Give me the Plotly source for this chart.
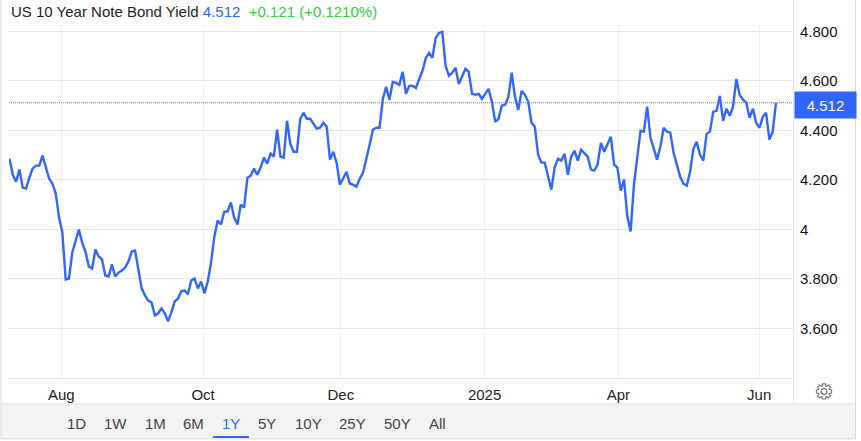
import math
import plotly.graph_objects as go

title = "US 10 Year Note Bond Yield"
last_text = "4.512"
change_text = "+0.121 (+0.1210%)"

yields = [
 4.286,4.221,4.193,4.242,4.169,4.165,4.209,4.246,4.258,4.258,4.298,4.250,4.205,4.185,4.145,4.048,3.988,3.798,3.802,3.907,
 3.959,4.000,3.947,3.911,3.850,3.842,3.919,3.891,3.879,3.814,3.810,3.859,3.810,3.826,3.834,3.846,3.871,3.911,3.915,3.838,
 3.762,3.734,3.713,3.705,3.653,3.661,3.681,3.661,3.629,3.665,3.709,3.721,3.750,3.754,3.738,3.794,3.802,3.762,3.790,3.742,
 3.790,3.867,3.971,4.036,4.020,4.072,4.072,4.109,4.048,4.020,4.100,4.088,4.209,4.217,4.246,4.221,4.250,4.290,4.266,4.306,
 4.294,4.403,4.294,4.290,4.439,4.346,4.314,4.314,4.447,4.471,4.447,4.447,4.427,4.407,4.411,4.431,4.415,4.282,4.314,4.270,
 4.181,4.205,4.233,4.185,4.181,4.173,4.205,4.229,4.282,4.342,4.403,4.411,4.411,4.528,4.576,4.524,4.596,4.592,4.584,4.637,
 4.548,4.580,4.580,4.572,4.608,4.641,4.693,4.713,4.693,4.774,4.794,4.798,4.661,4.621,4.633,4.653,4.588,4.617,4.649,4.637,
 4.548,4.544,4.548,4.528,4.548,4.568,4.516,4.435,4.447,4.500,4.504,4.536,4.633,4.536,4.483,4.560,4.544,4.516,4.431,4.415,
 4.302,4.270,4.270,4.221,4.161,4.250,4.286,4.278,4.306,4.221,4.294,4.318,4.278,4.322,4.310,4.294,4.242,4.238,4.262,4.350,
 4.314,4.342,4.375,4.262,4.250,4.157,4.201,4.052,3.992,4.181,4.282,4.399,4.395,4.496,4.371,4.322,4.282,4.334,4.411,4.395,
 4.391,4.310,4.262,4.213,4.185,4.177,4.233,4.326,4.354,4.302,4.278,4.387,4.395,4.475,4.479,4.540,4.439,4.488,4.459,4.496,
 4.608,4.544,4.524,4.512,4.451,4.488,4.431,4.411,4.455,4.471,4.363,4.395,4.512,
]
x_index = list(range(len(yields)))

x_tick_pos = [15.7, 58.6, 100.3, 143.8, 184.3, 226.9]
x_tick_text = ["Aug", "Oct", "Dec", "2025", "Apr", "Jun"]
y_tick_vals = [3.6, 3.8, 4.0, 4.2, 4.4, 4.6, 4.8]
y_tick_text = ["3.600", "3.800", "4", "4.200", "4.400", "4.600", "4.800"]
buttons = ["1D", "1W", "1M", "6M", "1Y", "5Y", "10Y", "25Y", "50Y", "All"]
button_px = [76, 115, 155, 193, 231, 267, 308, 352, 397, 437]

BLUE = "#2e66ff"
W, H = 861, 441
L, R, T, B = 9, 793, 25, 378.5
px = lambda v: (v - L) / (R - L)
py = lambda v: (B - v) / (B - T)
FONT = "Liberation Sans, Arial, sans-serif"

# x range chosen so first point sits at pixel 9.5 and last at pixel 776
step = (776 - 9.5) / (len(yields) - 1)
x_range = [-(9.5 - L) / step, (R - 9.5) / step]

fig = go.Figure(go.Scatter(x=x_index, y=yields, mode="lines",
                           line=dict(color=BLUE, width=2.4), hoverinfo="skip"))

shapes = []
def rect(x0, y0, x1, y1, fill=None, line=None, layer="below"):
    shapes.append(dict(type="rect", xref="paper", yref="paper", x0=px(x0), x1=px(x1), y0=py(y0), y1=py(y1),
                       fillcolor=fill or "rgba(0,0,0,0)", line=dict(color=line or "rgba(0,0,0,0)", width=1 if line else 0), layer=layer))
def seg(x0, y0, x1, y1, color, width=1, dash=None, layer="below"):
    shapes.append(dict(type="line", xref="paper", yref="paper", x0=px(x0), x1=px(x1), y0=py(y0), y1=py(y1),
                       line=dict(color=color, width=width, dash=dash or "solid"), layer=layer))

rect(1, 404, 855.5, 439, fill="#f3f3f3")
seg(1, 404.5, 855.5, 404.5, "#e0e0e0")
seg(1, 439.5, 855.5, 439.5, "#d8d8d8")
seg(1, 0, 1, 440, "#d8d8d8")
seg(855.5, 0, 855.5, 440, "#d8d8d8")
seg(793.5, 0, 793.5, 404, "#e6e6e6")
seg(213, 437.5, 249, 437.5, BLUE, width=2)
# dotted last-value line
shapes.append(dict(type="line", xref="paper", yref="y", x0=0, x1=1, y0=yields[-1], y1=yields[-1],
                   line=dict(color="#5f7fd8", width=1, dash="1px,1px"), layer="above"))

# gear icon
cx, cy = 824, 392
pts = []
for k in range(8):
    a = k * math.pi / 4
    for da, r in [(-0.36, 5.6), (-0.2, 7.7), (0.2, 7.7), (0.36, 5.6)]:
        pts.append((cx + r * math.cos(a + da), cy + r * math.sin(a + da)))
path = "M " + " L ".join(f"{px(a):.5f},{py(b):.5f}" for a, b in pts) + " Z"
shapes.append(dict(type="path", xref="paper", yref="paper", path=path, line=dict(color="#777", width=1.2)))
shapes.append(dict(type="circle", xref="paper", yref="paper", x0=px(cx-2.8), x1=px(cx+2.8), y0=py(cy+2.8), y1=py(cy-2.8),
                   line=dict(color="#777", width=1.2)))

anns = [dict(xref="paper", yref="paper", x=px(9), y=py(11), xanchor="left", yanchor="middle", showarrow=False,
             font=dict(family=FONT, size=15, color="#222"),
             text=f'{title} <span style="color:{BLUE}">{last_text}</span>  <span style="color:#2ecc40">{change_text}</span>'),
        dict(xref="paper", yref="y", x=px(794), y=yields[-1], yshift=-2, xanchor="left", yanchor="middle", showarrow=False,
             bgcolor=BLUE, width=61, height=26, align="center", borderpad=0,
             font=dict(family=FONT, size=15, color="white"), text=last_text)]
for name, bx in zip(buttons, button_px):
    anns.append(dict(xref="paper", yref="paper", x=px(bx), y=py(424), xanchor="center", yanchor="middle", showarrow=False,
                     font=dict(family=FONT, size=15, color=BLUE if name == "1Y" else "#444"), text=name))

fig.update_layout(
    width=W, height=H, autosize=False,
    margin=dict(l=L, r=W - R, t=T, b=H - B, pad=0),
    paper_bgcolor="white", plot_bgcolor="white", showlegend=False,
    shapes=shapes, annotations=anns,
    font=dict(family=FONT, size=15, color="#111"),
    xaxis=dict(range=x_range, tickmode="array", tickvals=x_tick_pos, ticktext=x_tick_text,
               showgrid=True, gridcolor="#f0f0f0", gridwidth=1, zeroline=False, showline=True, linecolor="#e6e6e6",
               ticks="outside", ticklen=3, tickcolor="rgba(0,0,0,0)", tickfont=dict(size=15, color="#222")),
    yaxis=dict(range=[3.4, 4.826], side="right", tickmode="array", tickvals=y_tick_vals, ticktext=y_tick_text,
               showgrid=True, gridcolor="#e6e6e6", gridwidth=1, zeroline=False, showline=False,
               ticks="outside", ticklen=3, tickcolor="rgba(0,0,0,0)", tickfont=dict(size=15, color="#111")),
)
fig.write_html("out.html", config=dict(displayModeBar=False),
               post_script="document.body.style.margin='0';document.body.style.overflow='hidden';")
